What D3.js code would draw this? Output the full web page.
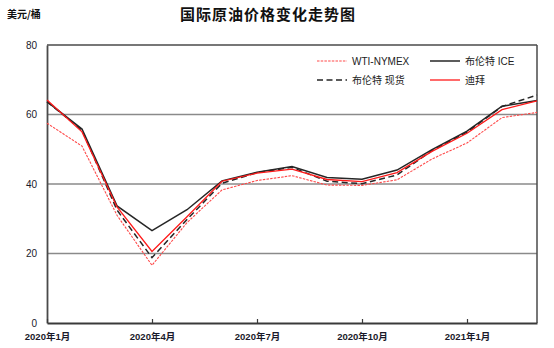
<!DOCTYPE html>
<html>
<head>
<meta charset="utf-8">
<script src="https://cdn.jsdelivr.net/npm/d3@7/dist/d3.min.js"></script>
<style>
  html, body { margin: 0; padding: 0; background: #fff; }
  svg { display: block; font-family: "Liberation Sans", Arial, "Noto Sans CJK SC", sans-serif; }
</style>
</head>
<body>
<svg id="chart" width="554" height="348"></svg>
<script>
// Monthly average crude prices, USD per barrel
const months = ["2020-01","2020-02","2020-03","2020-04","2020-05","2020-06","2020-07",
                "2020-08","2020-09","2020-10","2020-11","2020-12","2021-01","2021-02","2021-03"];
const tickMonths = ["2020-01","2020-04","2020-07","2020-10","2021-01"];
const tickLabels = ["2020年1月","2020年4月","2020年7月","2020年10月","2021年1月"];
const yTicks = [0, 20, 40, 60, 80];

const wtiNymex  = [57.5, 50.9, 31.0, 16.6, 28.9, 38.3, 41.0, 42.4, 39.7, 39.6, 41.2, 47.2, 51.8, 59.1, 60.6];
const brentIce  = [63.7, 55.8, 33.7, 26.6, 32.6, 40.9, 43.4, 45.0, 41.9, 41.4, 44.0, 49.9, 55.2, 62.4, 64.0];
const brentSpot = [63.7, 55.5, 32.5, 18.8, 29.8, 40.2, 43.3, 44.8, 40.8, 40.1, 42.6, 49.6, 54.9, 62.3, 65.6];
const dubai     = [64.2, 55.0, 33.4, 20.6, 30.6, 40.8, 43.1, 44.3, 41.3, 40.7, 43.3, 49.4, 54.6, 61.4, 63.9];

const seriesNames = ["WTI-NYMEX", "布伦特 ICE", "布伦特 现货", "迪拜"];

const svg = d3.select("#chart");
const m = { left: 47, right: 537, top: 45, bottom: 323 };

const x = d3.scalePoint().domain(months).range([m.left, m.right]);
const y = d3.scaleLinear().domain([0, 80]).range([m.bottom, m.top]);

// title and unit
svg.append("text")
  .attr("x", 268).attr("y", 20)
  .attr("text-anchor", "middle")
  .style("font-family", "'Noto Sans CJK SC', sans-serif")
  .style("font-weight", "bold")
  .style("font-size", "15px")
  .style("letter-spacing", "1px")
  .attr("fill", "#111")
  .text("国际原油价格变化走势图");

svg.append("text")
  .attr("x", 7).attr("y", 18)
  .style("font-family", "'Noto Sans CJK SC', sans-serif")
  .style("font-weight", "bold")
  .style("font-size", "10px")
  .attr("fill", "#111")
  .text("美元/桶");

// horizontal gridlines
svg.append("g")
  .selectAll("line")
  .data(yTicks.filter(d => d > 0 && d < 80))
  .join("line")
  .attr("x1", m.left).attr("x2", m.right)
  .attr("y1", d => y(d)).attr("y2", d => y(d))
  .attr("stroke", "#8a8a8a").attr("stroke-width", 1.5);

// plot frame: top and right borders
svg.append("line")
  .attr("x1", m.left).attr("x2", m.right).attr("y1", m.top).attr("y2", m.top)
  .attr("stroke", "#4a4a4a").attr("stroke-width", 1.5);
svg.append("line")
  .attr("x1", m.right).attr("x2", m.right).attr("y1", m.top).attr("y2", m.bottom)
  .attr("stroke", "#4a4a4a").attr("stroke-width", 1.5);

// y axis
const yAxis = d3.axisLeft(y).tickValues(yTicks).tickSize(0).tickPadding(10);
const gy = svg.append("g").attr("transform", `translate(${m.left},0)`).call(yAxis);
gy.select(".domain").attr("stroke", "#4a4a4a").attr("stroke-width", 1.8);
gy.selectAll("text")
  .style("font-size", "10px")
  .attr("fill", "#1a1a2a");

// x axis with inward ticks
const xAxis = d3.axisBottom(x)
  .tickValues(tickMonths)
  .tickFormat((d) => tickLabels[tickMonths.indexOf(d)])
  .tickSizeInner(-4).tickSizeOuter(0).tickPadding(10);
const gx = svg.append("g").attr("transform", `translate(0,${m.bottom})`).call(xAxis);
gx.select(".domain").attr("stroke", "#3a3a3a").attr("stroke-width", 1.8);
gx.selectAll(".tick line").attr("stroke", "#3a3a3a").attr("stroke-width", 1.2);
gx.selectAll("text")
  .style("font-family", "'Liberation Sans', Arial, 'Noto Sans CJK SC', sans-serif")
  .style("font-size", "9.5px")
  .style("font-weight", "bold")
  .attr("fill", "#1a1a2a");

// series lines
const line = d3.line().x((d, i) => x(months[i])).y(d => y(d));

const styles = [
  { data: wtiNymex,  color: "#ff4a4a", width: 1.1, dash: "2.5,1.2" },
  { data: brentIce,  color: "#262626", width: 1.5, dash: null },
  { data: brentSpot, color: "#262626", width: 1.5, dash: "6,3.5" },
  { data: dubai,     color: "#ff1a1a", width: 1.3, dash: null }
];

const drawOrder = [0, 2, 1, 3];
svg.append("g")
  .selectAll("path")
  .data(drawOrder.map(i => styles[i]))
  .join("path")
  .attr("d", d => line(d.data))
  .attr("fill", "none")
  .attr("stroke", d => d.color)
  .attr("stroke-width", d => d.width)
  .attr("stroke-dasharray", d => d.dash)
  .attr("stroke-linejoin", "miter");

// legend
const legendPos = [
  { x: 317, y: 61 },
  { x: 430, y: 61 },
  { x: 317, y: 80 },
  { x: 430, y: 80 }
];
const lg = svg.append("g")
  .selectAll("g")
  .data(styles)
  .join("g")
  .attr("transform", (d, i) => `translate(${legendPos[i].x},${legendPos[i].y})`);
lg.append("line")
  .attr("x1", 0).attr("x2", 30).attr("y1", 0).attr("y2", 0)
  .attr("stroke", d => d.color)
  .attr("stroke-width", d => d.width)
  .attr("stroke-dasharray", d => d.dash);
lg.append("text")
  .attr("x", 35).attr("y", 0).attr("dy", "0.35em")
  .style("font-family", "'Liberation Sans', Arial, 'Noto Sans CJK SC', sans-serif")
  .style("font-size", "10px")
  .attr("fill", "#222")
  .text((d, i) => seriesNames[i]);
</script>
</body>
</html>
